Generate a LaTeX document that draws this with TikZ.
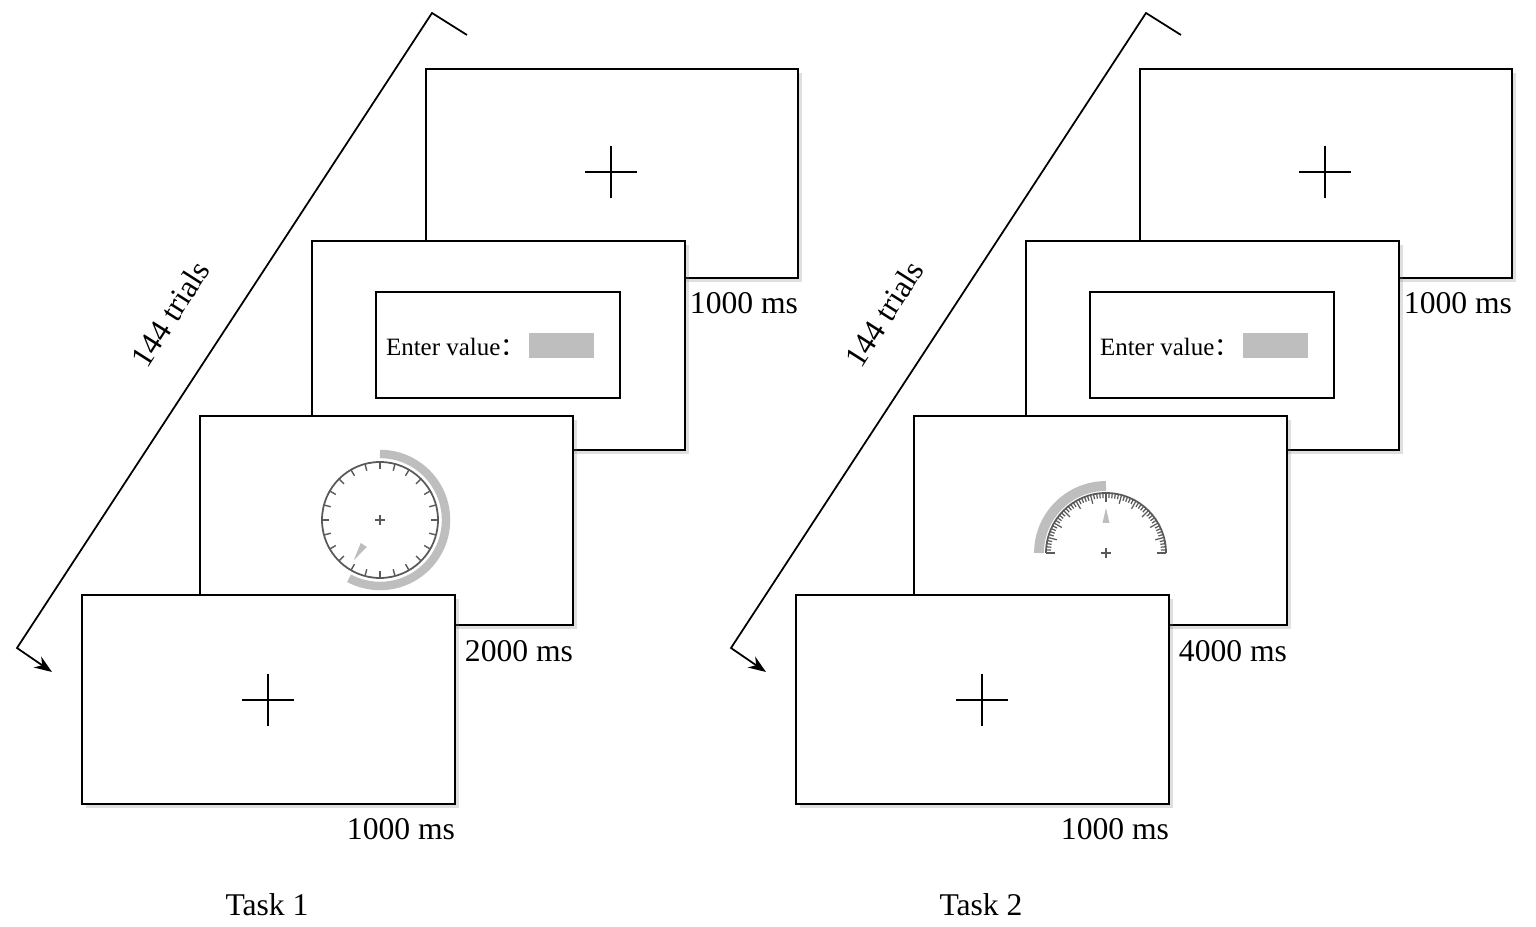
\documentclass[tikz,border=0pt]{standalone}
\usepackage{fontspec}
\setmainfont{Liberation Serif}
\newfontfamily\cjk{Noto Sans CJK SC}
\usetikzlibrary{arrows.meta,shadows,calc}
\definecolor{gr}{RGB}{190,190,190}
\definecolor{dk}{RGB}{90,90,90}
\tikzset{
  scr/.style={draw=black,line width=0.45pt,fill=white,drop shadow={shadow xshift=0.4mm,shadow yshift=-0.4mm,opacity=0.25}},
  lbl/.style={font=\fontsize{9}{10}\selectfont,inner sep=0pt},
}
\begin{document}
\begin{tikzpicture}[x=0.1mm,y=-0.1mm]
\useasboundingbox (0,0) rectangle (1536,927);
\foreach \o/\t/\lab/\task in {0/1/2000/Task 1,714/2/4000/Task 2}{
\begin{scope}[xshift=\o*0.1mm]
 \coordinate (e\t) at (467,35);
 \coordinate (c\t) at (432,13);
 \coordinate (b\t) at (17,648);
 \coordinate (f\t) at (52,672);
 \draw[line width=0.5pt,-{Stealth[length=5pt]}] (e\t)--(c\t)--(b\t)--(f\t);
 \node[lbl,rotate=57.5] (tr\t) at (170,314) {144 trials};
 \path[scr] (426,69) rectangle (798,278);
 \draw[line width=0.6pt] (585,172)--(637,172) (611,146)--(611,198);
 \node[lbl] (la\t) at (744,303) {1000 ms};
 \path[scr] (312,241) rectangle (685,450);
 \draw[line width=0.5pt] (376,292) rectangle (620,398);
 \node[lbl,font=\fontsize{7.1}{8}\selectfont,anchor=east] (ev\t) at (526,347) {Enter value{\cjk ：}};
 \fill[gr] (529,333) rectangle (594,358);
 \path[scr] (200,416) rectangle (573,625);
 \node[lbl] (lc\t) at (519,651) {\lab{} ms};
 \path[scr] (82,595) rectangle (455,804);
 \draw[line width=0.6pt] (242,700)--(294,700) (268,674)--(268,726);
 \node[lbl] (ld\t) at (401,829) {1000 ms};
 \node[lbl] (tk\t) at (267,905) {\task};
\end{scope}
}
\begin{scope}[shift={(380,520)}]
 \draw[gr,line width=2.4pt] (0,-66) arc[start angle=-90,end angle=118,radius=66];
 \draw[dk,line width=0.5pt] (0,0) circle[radius=58];
 \foreach \a in {0,15,...,345}{\draw[dk,line width=0.4pt] (\a:58)--(\a:51);}
 \draw[dk,line width=0.4pt] (-5,0)--(5,0) (0,-5)--(0,5);
 \fill[gr] (123:48)--(116:30)--(130:30)--cycle;
\end{scope}
\begin{scope}[shift={(1106,553)}]
 \draw[gr,line width=2.8pt] (-67,0) arc[start angle=180,end angle=270,radius=67];
 \draw[dk,line width=0.5pt] (-60,0) arc[start angle=180,end angle=360,radius=60];
 \foreach \i in {0,...,60}{
   \pgfmathsetmacro\a{180+3*\i}
   \pgfmathsetmacro\l{ifthenelse(mod(\i,5)==0,9,5)}
   \draw[dk,line width=0.35pt] (\a:60)--(\a:60-\l);}
 \draw[dk,line width=0.4pt] (-5,0)--(5,0) (0,-5)--(0,5);
 \fill[gr] (0,-45)--(-3.5,-30)--(3.5,-30)--cycle;
\end{scope}
\end{tikzpicture}
\end{document}
